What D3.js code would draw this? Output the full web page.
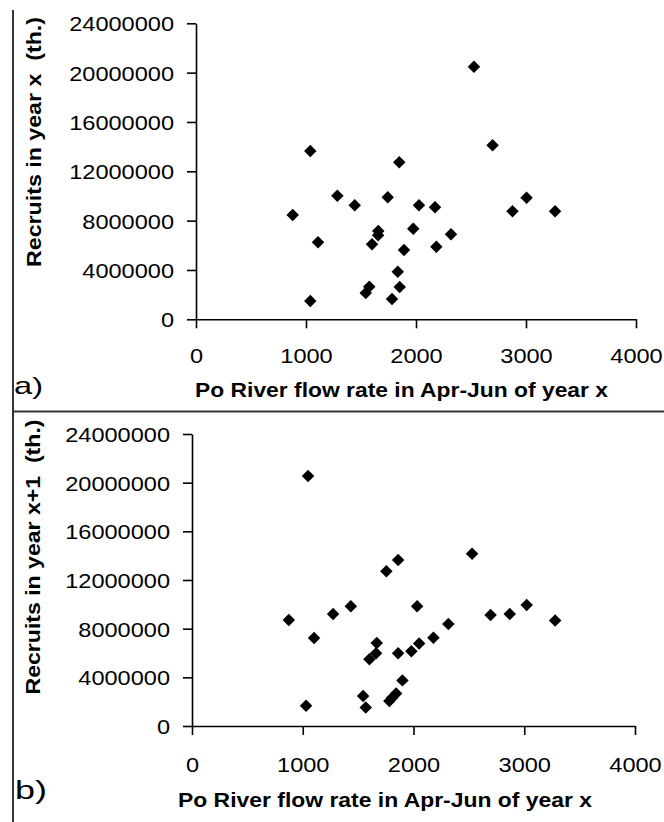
<!DOCTYPE html>
<html>
<head>
<meta charset="utf-8">
<script src="https://cdn.jsdelivr.net/npm/d3@7"></script>
<style>
  html, body { margin: 0; padding: 0; background: #fff; }
  svg { display: block; }
  text { font-family: "Liberation Sans", Arial, sans-serif; fill: #000; }
</style>
</head>
<body>
<svg id="chart" width="664" height="822"></svg>
<script>
// Po River flow rate (Apr-Jun of year x) against recruits in year x
const flowA = [2527, 1039, 1848, 1285, 1443, 1743, 2027, 2173, 879, 1109, 1657, 1655, 1600, 1975,
               1891, 2318, 2185, 1834, 1852, 1575, 1543, 1782, 1039, 2696, 3005, 2877, 3264];
const recruitsA = [20480000, 13650000, 12730000, 10020000, 9240000, 9890000, 9240000, 9080000,
                   8460000, 6240000, 7160000, 6810000, 6080000, 7350000, 5620000, 6890000, 5890000,
                   3860000, 2620000, 2640000, 2130000, 1650000, 1480000, 14110000, 9860000,
                   8760000, 8760000];

// Po River flow rate (Apr-Jun of year x) against recruits in year x+1
const flowB = [1048, 2529, 1861, 1755, 1434, 2033, 1274, 874, 2315, 1102, 2180, 1668, 2051, 1662,
               1602, 1861, 1981, 1900, 1843, 1807, 1782, 1545, 1569, 1030, 2696, 2869, 3022, 3279];
const recruitsB = [20550000, 14160000, 13640000, 12710000, 9840000, 9840000, 9210000, 8710000,
                   8380000, 7230000, 7260000, 6820000, 6790000, 5970000, 5480000, 5970000, 6140000,
                   3750000, 2680000, 2330000, 2050000, 2470000, 1530000, 1670000, 9120000,
                   9200000, 9950000, 8680000];

const xTicks = [0, 1000, 2000, 3000, 4000];
const yTicks = [0, 4000000, 8000000, 12000000, 16000000, 20000000, 24000000];
const xTitle = "Po River flow rate in Apr-Jun of year x";

const svg = d3.select("#chart");

// outer frame: left rule and the rule between the two panels
svg.append("line").attr("x1", 13).attr("x2", 13).attr("y1", 10).attr("y2", 822)
  .attr("stroke", "#000").attr("stroke-width", 1.6);
svg.append("line").attr("x1", 13).attr("x2", 664).attr("y1", 411.5).attr("y2", 411.5)
  .attr("stroke", "#333").attr("stroke-width", 2);

const digitW = 13.1;

function panel(cfg, flows, recruits) {
  const x = d3.scaleLinear().domain([0, 4000]).range([cfg.left, cfg.right]);
  const y = d3.scaleLinear().domain([0, 24000000]).range([cfg.bottom, cfg.top]);
  const g = svg.append("g");

  const xAxis = g.append("g")
    .attr("transform", `translate(0,${cfg.bottom})`)
    .call(d3.axisBottom(x).tickValues(xTicks).tickSize(9).tickSizeOuter(0).tickFormat(d3.format("d")));
  const yAxis = g.append("g")
    .attr("transform", `translate(${cfg.left},0)`)
    .call(d3.axisLeft(y).tickValues(yTicks).tickSize(9).tickSizeOuter(0).tickFormat(d3.format("d")));

  [xAxis, yAxis].forEach(a => {
    a.select(".domain").attr("stroke", "#000").attr("stroke-width", 1.6);
    a.selectAll(".tick line").attr("stroke", "#000").attr("stroke-width", 1.6);
    a.selectAll(".tick text")
      .attr("font-family", "Liberation Sans, Arial, sans-serif")
      .attr("font-size", 21)
      .attr("fill", "#111")
      .attr("textLength", function () { return this.textContent.length * digitW; })
      .attr("lengthAdjust", "spacingAndGlyphs");
  });
  xAxis.selectAll(".tick text").attr("y", cfg.xLabelDy).attr("dy", 0);
  yAxis.selectAll(".tick text").attr("x", -cfg.yLabelGap).attr("dy", "0.36em");

  // diamond markers
  const diamond = d3.symbol().type(d3.symbolSquare).size(78);
  g.append("g").selectAll("path")
    .data(flows.map((f, i) => [f, recruits[i]]))
    .join("path")
    .attr("d", diamond)
    .attr("transform", d => `translate(${x(d[0])},${y(d[1])}) rotate(45)`)
    .attr("fill", "#000");

  // axis titles
  g.append("text")
    .attr("x", cfg.xTitleX).attr("y", cfg.xTitleY)
    .attr("font-size", 20.5).attr("font-weight", "bold")
    .attr("textLength", cfg.xTitleLen).attr("lengthAdjust", "spacingAndGlyphs")
    .text(xTitle);
  g.append("text")
    .attr("transform", `translate(${cfg.yTitleX},${cfg.yTitleY}) rotate(-90)`)
    .attr("text-anchor", "middle")
    .attr("font-size", 20.5).attr("font-weight", "bold")
    .attr("textLength", cfg.yTitleLen).attr("lengthAdjust", "spacingAndGlyphs")
    .text(cfg.yTitle);

  // panel letter
  g.append("text")
    .attr("x", cfg.tagX).attr("y", cfg.tagY)
    .attr("font-size", cfg.tagSize)
    .attr("textLength", cfg.tagLen).attr("lengthAdjust", "spacingAndGlyphs")
    .text(cfg.tag);
}

panel({
  left: 196, right: 636, top: 23.3, bottom: 319.3,
  xLabelDy: 44, yLabelGap: 22,
  xTitleX: 195, xTitleY: 397, xTitleLen: 413,
  yTitle: "Recruits in year x\u00a0\u00a0(th.)", yTitleX: 41, yTitleY: 142, yTitleLen: 250,
  tag: "a)", tagX: 14, tagY: 394, tagSize: 24, tagLen: 29
}, flowA, recruitsA);

panel({
  left: 192, right: 635, top: 434, bottom: 726,
  xLabelDy: 46, yLabelGap: 22,
  xTitleX: 178, xTitleY: 807, xTitleLen: 414,
  yTitle: "Recruits in year x+1\u00a0\u00a0(th.)", yTitleX: 40, yTitleY: 557, yTitleLen: 275,
  tag: "b)", tagX: 15, tagY: 799, tagSize: 25, tagLen: 32
}, flowB, recruitsB);
</script>
</body>
</html>
